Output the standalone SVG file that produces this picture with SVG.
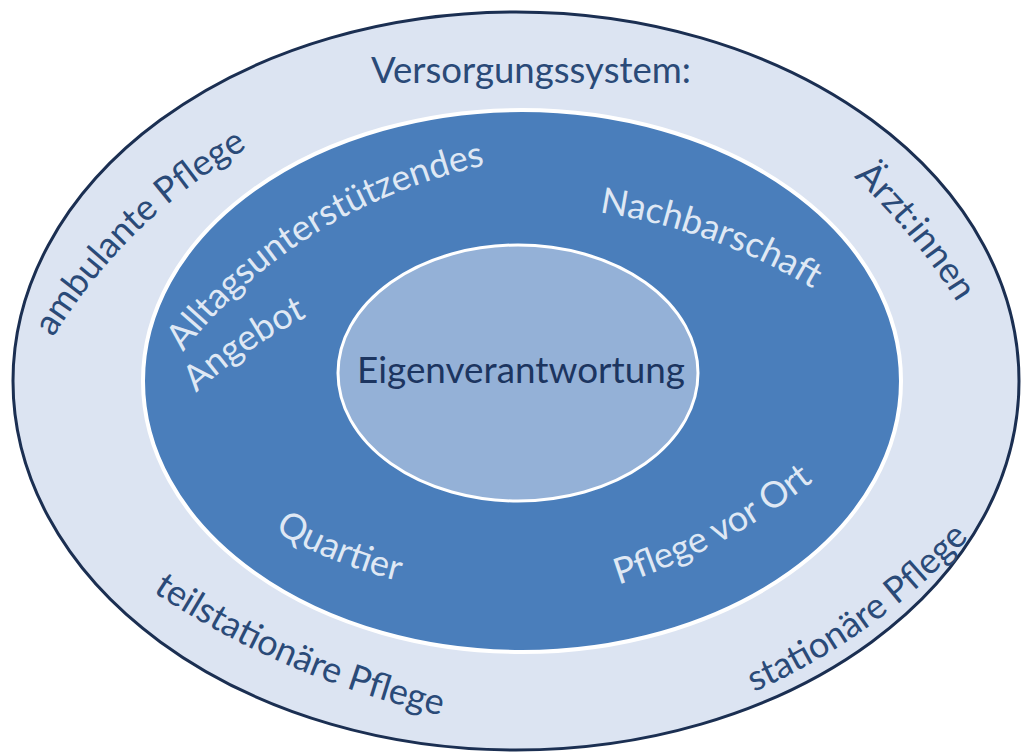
<svg xmlns="http://www.w3.org/2000/svg" width="1021" height="756" viewBox="0 0 1021 756">
  <style>
    .lbl { font-family: Lato, "Open Sans", "Liberation Sans", sans-serif; font-size: 36px; }
    .dark { fill: #2a4a78; }
    .light { fill: #dfe8f4; }
    .core { fill: #1c3560; }
  </style>
  <defs>
    <path id="p-amb" d="M48,346 Q124,218 256,143"/>
    <path id="p-arzt" d="M823,150 Q918,228 978,338"/>
    <path id="p-teil" d="M150,590 Q285,680 444,716"/>
    <path id="p-stat" d="M742,697 Q875,642 978,528"/>
    <path id="p-allt" d="M174,364 Q292,205 500,162"/>
    <path id="p-ang" d="M196,393 Q262,333 345,300"/>
    <path id="p-nach" d="M597,212 Q714,229 815,290"/>
    <path id="p-quar" d="M278,533 Q332,564 395,580"/>
    <path id="p-pfl" d="M608,588 Q728,552 822,474"/>
  </defs>
  <rect width="1021" height="756" fill="#ffffff"/>

  <g id="versorgungssystem">
    <ellipse cx="516" cy="381" rx="503" ry="369" fill="#dce4f2" stroke="#1b2f52" stroke-width="3"/>
    <text class="lbl dark" x="531" y="83" text-anchor="middle" textLength="320" lengthAdjust="spacingAndGlyphs">Versorgungssystem:</text>
  </g>

  <g id="label-ambulante">
    <text class="lbl dark" text-anchor="middle"><textPath href="#p-amb" startOffset="50%">ambulante Pflege</textPath></text>
  </g>
  <g id="label-aerzte">
    <text class="lbl dark" text-anchor="middle"><textPath href="#p-arzt" startOffset="50%">Ärzt:innen</textPath></text>
  </g>
  <g id="label-teilstationaer">
    <text class="lbl dark" text-anchor="middle"><textPath href="#p-teil" startOffset="50%">teilstationäre Pflege</textPath></text>
  </g>
  <g id="label-stationaer">
    <text class="lbl dark" text-anchor="middle"><textPath href="#p-stat" startOffset="50%">stationäre Pflege</textPath></text>
  </g>

  <g id="umfeld">
    <ellipse cx="522" cy="381" rx="379" ry="271" fill="#4a7ebb" stroke="#ffffff" stroke-width="4"/>
  </g>

  <g id="label-alltag">
    <text class="lbl light" text-anchor="middle"><textPath href="#p-allt" startOffset="50%">Alltagsunterstützendes</textPath></text>
    <text class="lbl light"><textPath href="#p-ang" startOffset="0">Angebot</textPath></text>
  </g>
  <g id="label-nachbarschaft">
    <text class="lbl light" text-anchor="middle"><textPath href="#p-nach" startOffset="50%">Nachbarschaft</textPath></text>
  </g>
  <g id="label-quartier">
    <text class="lbl light" text-anchor="middle"><textPath href="#p-quar" startOffset="50%">Quartier</textPath></text>
  </g>
  <g id="label-pflege-vor-ort">
    <text class="lbl light" text-anchor="middle"><textPath href="#p-pfl" startOffset="50%">Pflege vor Ort</textPath></text>
  </g>

  <g id="eigenverantwortung">
    <ellipse cx="518" cy="373" rx="180" ry="128" fill="#94b1d7" stroke="#ffffff" stroke-width="3"/>
    <text class="lbl core" x="521" y="383" text-anchor="middle" textLength="328" lengthAdjust="spacingAndGlyphs">Eigenverantwortung</text>
  </g>
</svg>
